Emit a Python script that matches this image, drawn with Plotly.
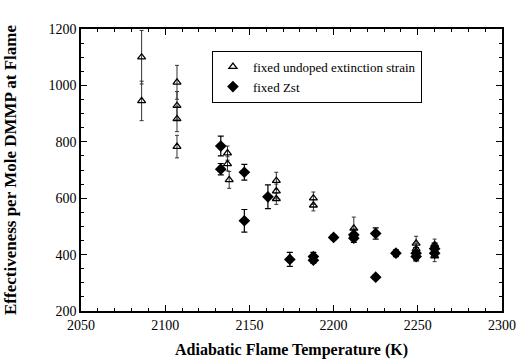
import plotly.graph_objects as go

# fixed undoped extinction strain (open triangles)
tri_T = [2086, 2086, 2107, 2107, 2107, 2107, 2137, 2137, 2138, 2166, 2166, 2166,
         2188, 2188, 2212, 2212, 2249, 2249, 2260, 2260]
tri_E = [1100, 945, 1011, 928, 881, 783, 760, 722, 665, 662, 625, 598,
         600, 575, 493, 470, 440, 420, 435, 395]
tri_err = [95, 70, 60, 50, 45, 40, 25, 25, 30, 30, 25, 20,
           22, 20, 40, 15, 25, 20, 20, 20]

# fixed Zst (filled)
zst_T = [2133, 2133, 2147, 2147, 2161, 2174, 2188, 2188, 2200, 2212, 2212,
         2225, 2225, 2237, 2249, 2249, 2260, 2260]
zst_E = [785, 703, 692, 520, 605, 383, 393, 380, 461, 470, 458,
         475, 320, 405, 405, 393, 421, 405]
zst_err = [35, 20, 28, 40, 42, 25, 15, 10, 8, 20, 15,
           20, 8, 12, 20, 15, 20, 15]

x_ticks = [2050, 2100, 2150, 2200, 2250, 2300]
y_ticks = [200, 400, 600, 800, 1000, 1200]

FONT = "Liberation Serif"

fig = go.Figure()
fig.add_trace(go.Scatter(
    x=tri_T, y=tri_E, mode="markers", name="fixed undoped extinction strain",
    marker=dict(symbol="triangle-up-open", size=7, color="black", line=dict(width=1.3)),
    error_y=dict(type="data", array=tri_err, color="#333", thickness=1, width=2),
))
fig.add_trace(go.Scatter(
    x=zst_T, y=zst_E, mode="markers", name="fixed Zst",
    marker=dict(symbol="diamond", size=9, color="black"),
    error_y=dict(type="data", array=zst_err, color="black", thickness=1.2, width=3),
))

axis_common = dict(
    showline=True, linecolor="black", linewidth=1.5, mirror="ticks",
    ticks="inside", ticklen=6, tickcolor="black", showgrid=False, zeroline=False,
    tickfont=dict(family=FONT, size=14, color="black"),
    minor=dict(ticks="inside", ticklen=3, tickcolor="black"),
    automargin=False,
)

fig.update_layout(
    width=520, height=360,
    margin=dict(l=81, r=18, t=29, b=49),
    paper_bgcolor="white", plot_bgcolor="white",
    font=dict(family=FONT, color="black"),
    xaxis=dict(range=[2050, 2300], tickvals=x_ticks,
               title=dict(text="<b>Adiabatic Flame Temperature (K)</b>",
                          font=dict(family=FONT, size=16), standoff=12),
               **axis_common),
    yaxis=dict(range=[200, 1200], tickvals=y_ticks,
               title=dict(text="<b>Effectiveness per Mole DMMP at Flame</b>",
                          font=dict(family=FONT, size=17), standoff=28),
               **axis_common),
    legend=dict(x=0.311, y=0.923, xanchor="left", yanchor="top",
                bgcolor="white", bordercolor="black", borderwidth=1,
                font=dict(family=FONT, size=13), tracegroupgap=0,
                itemwidth=30),
    showlegend=True,
)
fig.update_xaxes(minor=dict(dtick=10))
fig.update_yaxes(minor=dict(dtick=50))

fig.write_html("out.html")
